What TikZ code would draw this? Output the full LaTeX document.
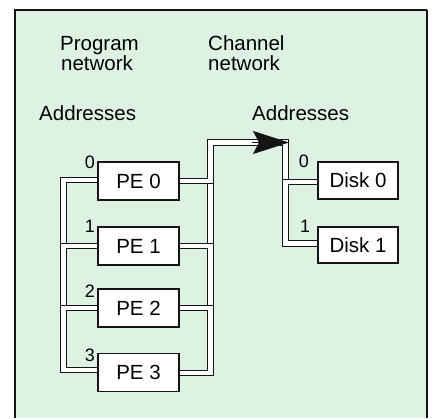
\documentclass[tikz,border=0pt]{standalone}
\usepackage{fontspec}
\setmainfont{Liberation Sans}
\usetikzlibrary{arrows.meta,calc}
\pgfdeclarelayer{back}
\pgfdeclarelayer{wires}
\pgfsetlayers{back,wires,main}
\definecolor{paper}{RGB}{221,242,227}
\definecolor{ink}{RGB}{20,20,20}
\tikzset{
  box/.style={draw=ink, line width=1.9pt, fill=white, minimum width=81pt,
    minimum height=38pt, inner sep=0pt, font=\fontsize{20.5}{22}\selectfont},
  wire/.style={draw=ink, line width=1.3pt, double=white, double distance=4.1pt},
  lbl/.style={font=\fontsize{20.5}{22}\selectfont, inner sep=0pt, anchor=base west},
  num/.style={font=\fontsize{18}{20}\selectfont, inner sep=0pt},
  frameline/.style={draw=ink, line width=1.2pt}
}
\begin{document}
\begin{tikzpicture}[x=1pt,y=-1pt]
\useasboundingbox (0,0) rectangle (433,418);
\begin{pgfonlayer}{back}
  \fill[white] (0,0) rectangle (433,418);
  \fill[paper] (15,10) rectangle (427,418);
  \draw[frameline] (15,418) -- (15,10) -- (427,10);
  \draw[frameline, line width=2.2pt] (427,10) -- (427,418);
\end{pgfonlayer}

% titles
\node[lbl] (t1a) at (60,50) {Program};
\node[lbl] (t1b) at (61,70) {network};
\node[lbl] (t2a) at (208,50) {Channel};
\node[lbl] (t2b) at (208,70) {network};
\node[lbl] (ad1) at (39,120) {Addresses};
\node[lbl] (ad2) at (252,120) {Addresses};

% boxes
\node[box] (PE0) at (138.5,181) {PE 0};
\node[box] (PE1) at (138.5,246) {PE 1};
\node[box] (PE2) at (138.5,308) {PE 2};
\node[box] (PE3) at (138.5,372.5) {PE 3};
\node[box, minimum width=80pt, minimum height=37pt] (D0) at (358,180.5) {Disk 0};
\node[box, minimum width=80pt, minimum height=36pt] (D1) at (358,245) {Disk 1};

% address numbers
\node[num] (n0) at (90,162) {0};
\node[num] (n1) at (90,226) {1};
\node[num] (n2) at (90,291) {2};
\node[num] (n3) at (90,355) {3};
\node[num] (m0) at (304,161) {0};
\node[num] (m1) at (305,226) {1};

% wire helper coordinates
\coordinate (lbus) at (63.5,0);
\coordinate (rbus) at (210.5,0);
\coordinate (cbus) at (285.5,0);
\coordinate (top) at (0,142.5);
\coordinate (a0) at ($(PE0.west)+(0,-1)$);
\coordinate (a3) at ($(PE3.west)+(0,-2.5)$);
\coordinate (b3) at ($(PE3.east)+(0,0.5)$);
\coordinate (d0) at ($(D0.west)+(0,1.5)$);
\coordinate (d1) at ($(D1.west)+(0,-1.5)$);
\coordinate (ahead) at (252,142.5);
\coordinate (atip) at (289,142.5);

\begin{pgfonlayer}{wires}
  % program network (left ring)
  \draw[wire] (a0) -| (lbus |- PE1.west) -- (PE1.west);
  \draw[wire] (PE1.west) -| (lbus |- PE2.west) -- (PE2.west);
  \draw[wire] (PE2.west) -| (lbus |- a3) -- (a3);
  % channel network (right bus)
  \draw[wire] (PE0.east) -| (rbus |- PE1.east) -- (PE1.east);
  \draw[wire] (PE1.east) -| (rbus |- PE2.east) -- (PE2.east);
  \draw[wire] (PE2.east) -| (rbus |- b3) -- (b3);
  \draw[wire] (PE0.east) -| (rbus |- top) -| (cbus |- d0) -- (d0);
  \draw[wire] (d0) -| (cbus |- d1) -- (d1);
\end{pgfonlayer}

\draw[ink, line width=1pt, -{Stealth[length=36pt,width=23pt,inset=6pt]}] (ahead) -- (atip);
\end{tikzpicture}
\end{document}
